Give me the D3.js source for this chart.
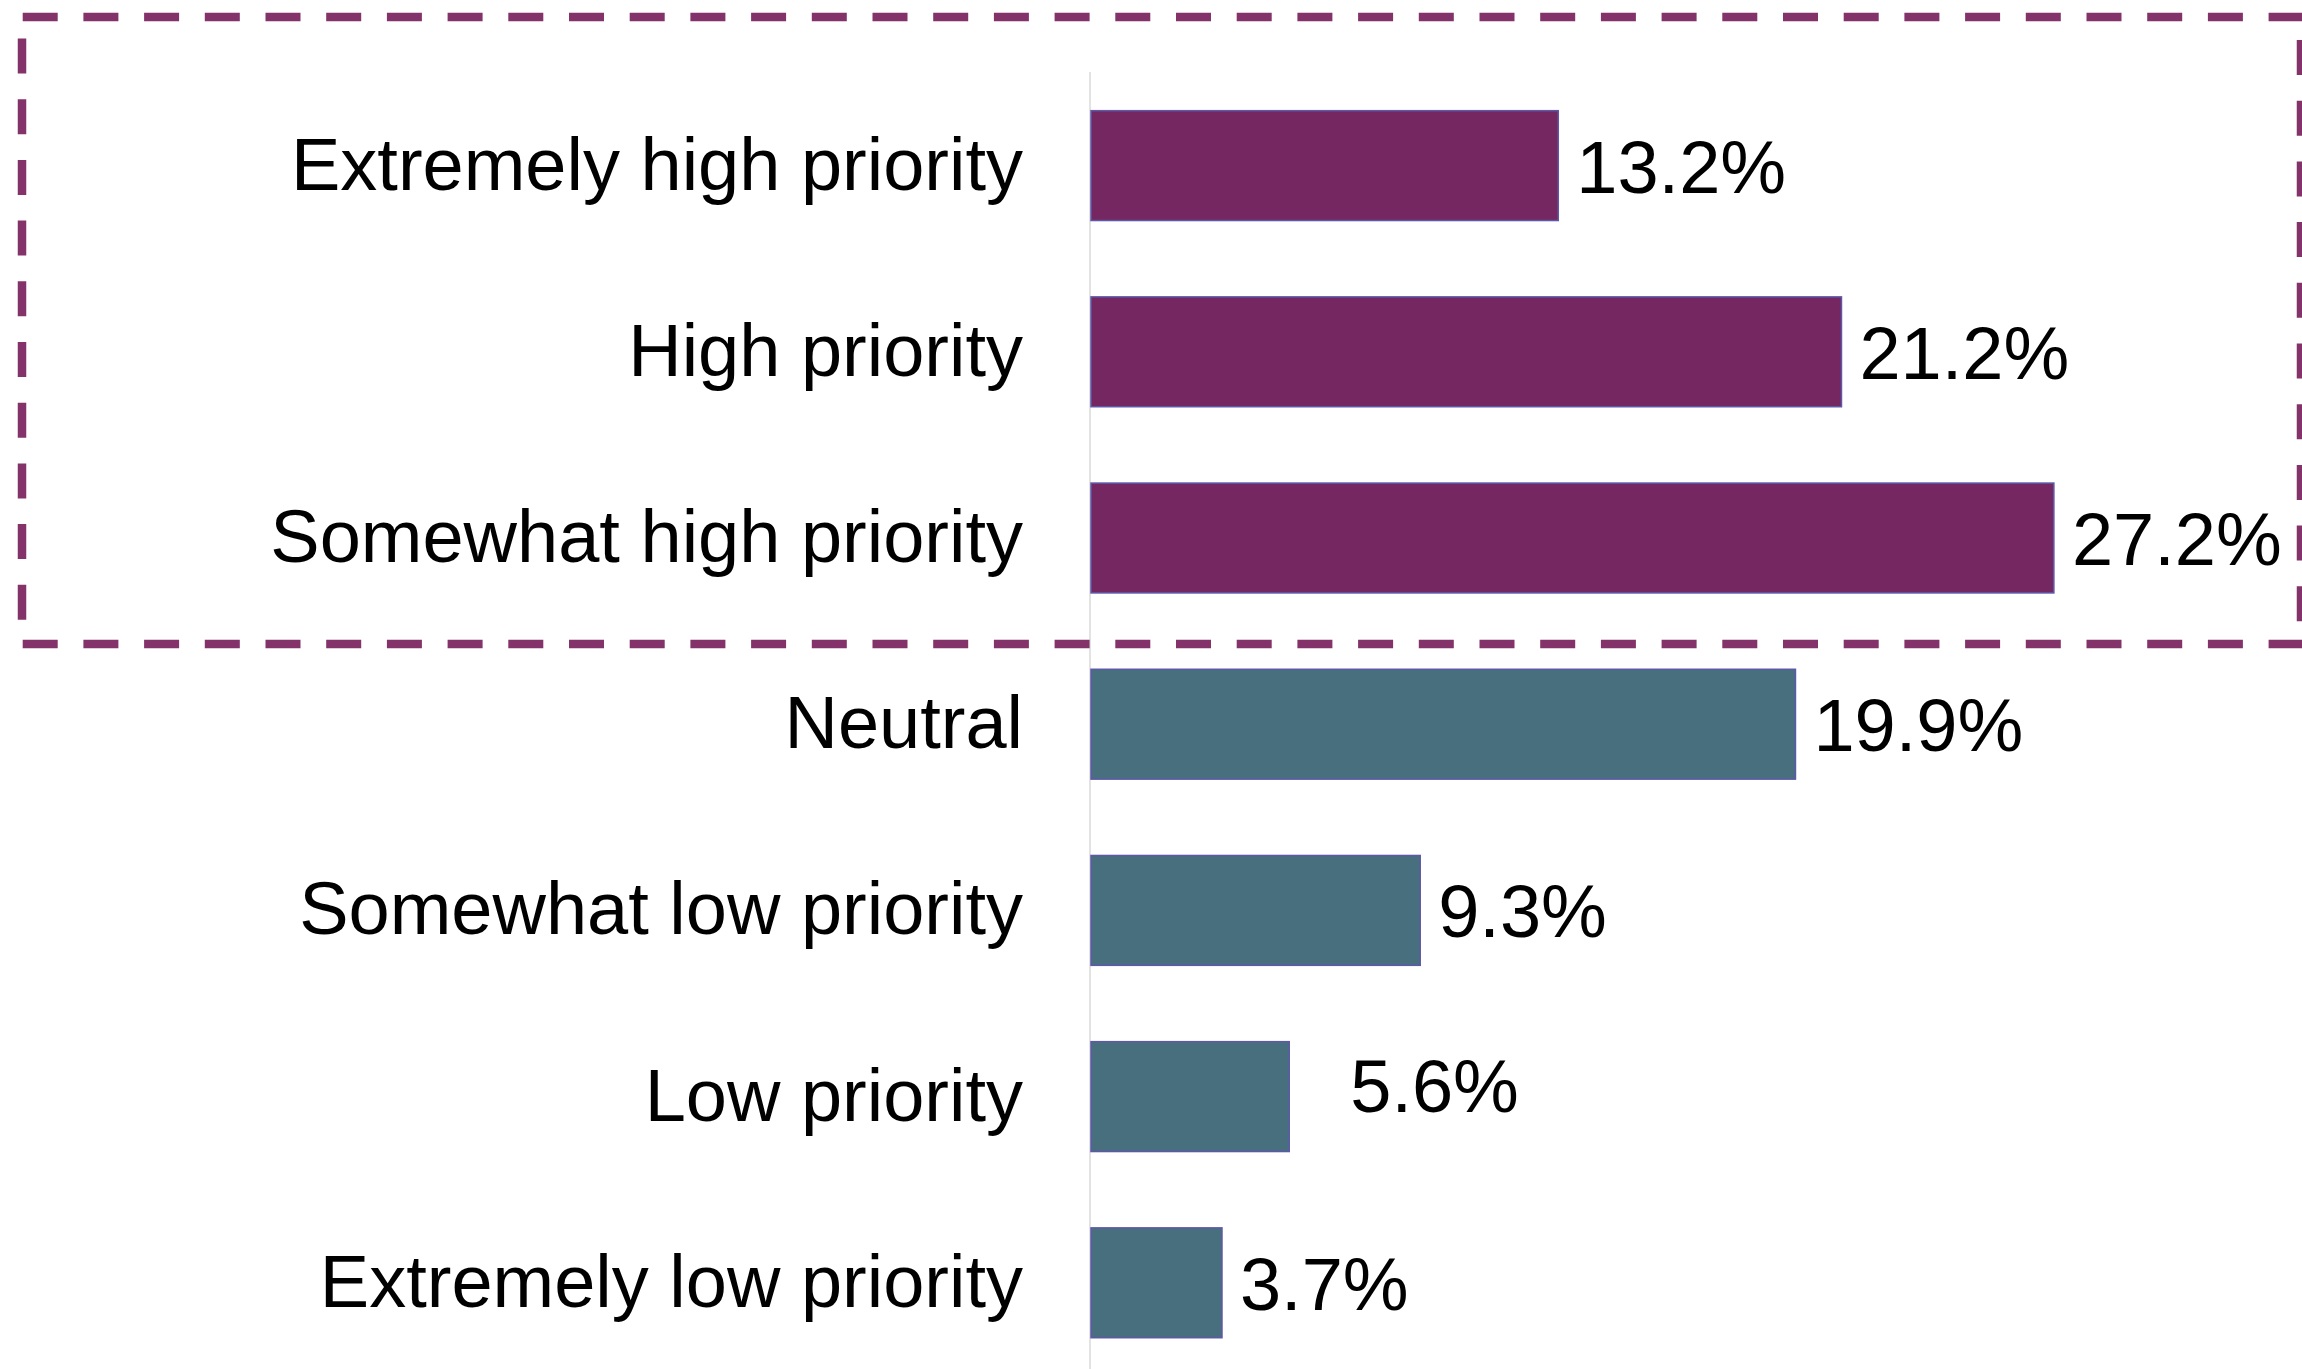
<!DOCTYPE html>
<html>
<head>
    <meta charset="utf-8">
    <title>Priority distribution</title>
    <script src="https://d3js.org/d3.v7.min.js"></script>
    <style>
        body { margin: 0; background: #fff; }
        .cat-label, .val-label {
            font-family: "Liberation Sans", Arial, sans-serif;
            font-size: 74px;
            fill: #000;
        }
    </style>
</head>
<body>
    <script>
        // chart data
        var categories = ["Extremely high priority", "High priority", "Somewhat high priority",
                          "Neutral", "Somewhat low priority", "Low priority", "Extremely low priority"];
        var values = [13.2, 21.2, 27.2, 19.9, 9.3, 5.6, 3.7];
        var valueLabels = ["13.2%", "21.2%", "27.2%", "19.9%", "9.3%", "5.6%", "3.7%"];
        var highGroup = ["Extremely high priority", "High priority", "Somewhat high priority"];

        var width = 2302, height = 1369;
        var purple = "#752761", teal = "#476f7e";

        var svg = d3.select("body").append("svg")
            .attr("width", width)
            .attr("height", height);

        var x = d3.scaleLinear()
            .domain([0, 30])
            .range([1091, 1091 + 30 * 35.4]);

        var y = d3.scaleBand()
            .domain(categories)
            .range([72.5, 72.5 + 7 * 186.2])
            .paddingInner(0.41)
            .paddingOuter(0.205);

        // light vertical axis line
        svg.append("line")
            .attr("x1", x(0) - 1).attr("x2", x(0) - 1)
            .attr("y1", 72).attr("y2", height)
            .attr("stroke", "#e3e3e3")
            .attr("stroke-width", 2);

        var rows = categories.map(function(c, i) {
            return { cat: c, value: values[i], label: valueLabels[i] };
        });

        svg.selectAll(".bar")
            .data(rows)
            .enter().append("rect")
            .attr("class", "bar")
            .attr("x", x(0))
            .attr("y", function(d) { return y(d.cat); })
            .attr("width", function(d) { return x(d.value) - x(0); })
            .attr("height", y.bandwidth())
            .attr("fill", function(d) { return highGroup.indexOf(d.cat) >= 0 ? purple : teal; })
            .attr("stroke", "#5d58a8")
            .attr("stroke-width", 1.5);

        svg.selectAll(".cat-label")
            .data(rows)
            .enter().append("text")
            .attr("class", "cat-label")
            .attr("x", 1023)
            .attr("y", function(d) { return y(d.cat) + y.bandwidth() / 2 + 24; })
            .attr("text-anchor", "end")
            .text(function(d) { return d.cat; });

        svg.selectAll(".val-label")
            .data(rows)
            .enter().append("text")
            .attr("class", "val-label")
            .attr("x", function(d) { return x(d.value) + 18; })
            .attr("y", function(d) { return y(d.cat) + y.bandwidth() / 2 + 27; })
            // the 5.6% label sits a bit off in the original
            .attr("dx", function(d) { return d.value === 5.6 ? 43 : 0; })
            .attr("dy", function(d) { return d.value === 5.6 ? -12 : 0; })
            .text(function(d) { return d.label; });

        // dashed highlight box around the high-priority rows
        var boxColor = "#833369";
        var dash = "35,25.7";
        var box = svg.append("g")
            .attr("fill", "none")
            .attr("stroke", boxColor)
            .attr("stroke-width", 8.5)
            .attr("stroke-dasharray", dash);
        box.append("line").attr("x1", 22.7).attr("x2", width).attr("y1", 17).attr("y2", 17);
        box.append("line").attr("x1", 22.7).attr("x2", width).attr("y1", 644).attr("y2", 644);
        box.append("line").attr("x1", 22).attr("x2", 22).attr("y1", 38.5).attr("y2", 630);
        box.append("line").attr("x1", 2301).attr("x2", 2301).attr("y1", 40).attr("y2", 630);
    </script>
</body>
</html>
